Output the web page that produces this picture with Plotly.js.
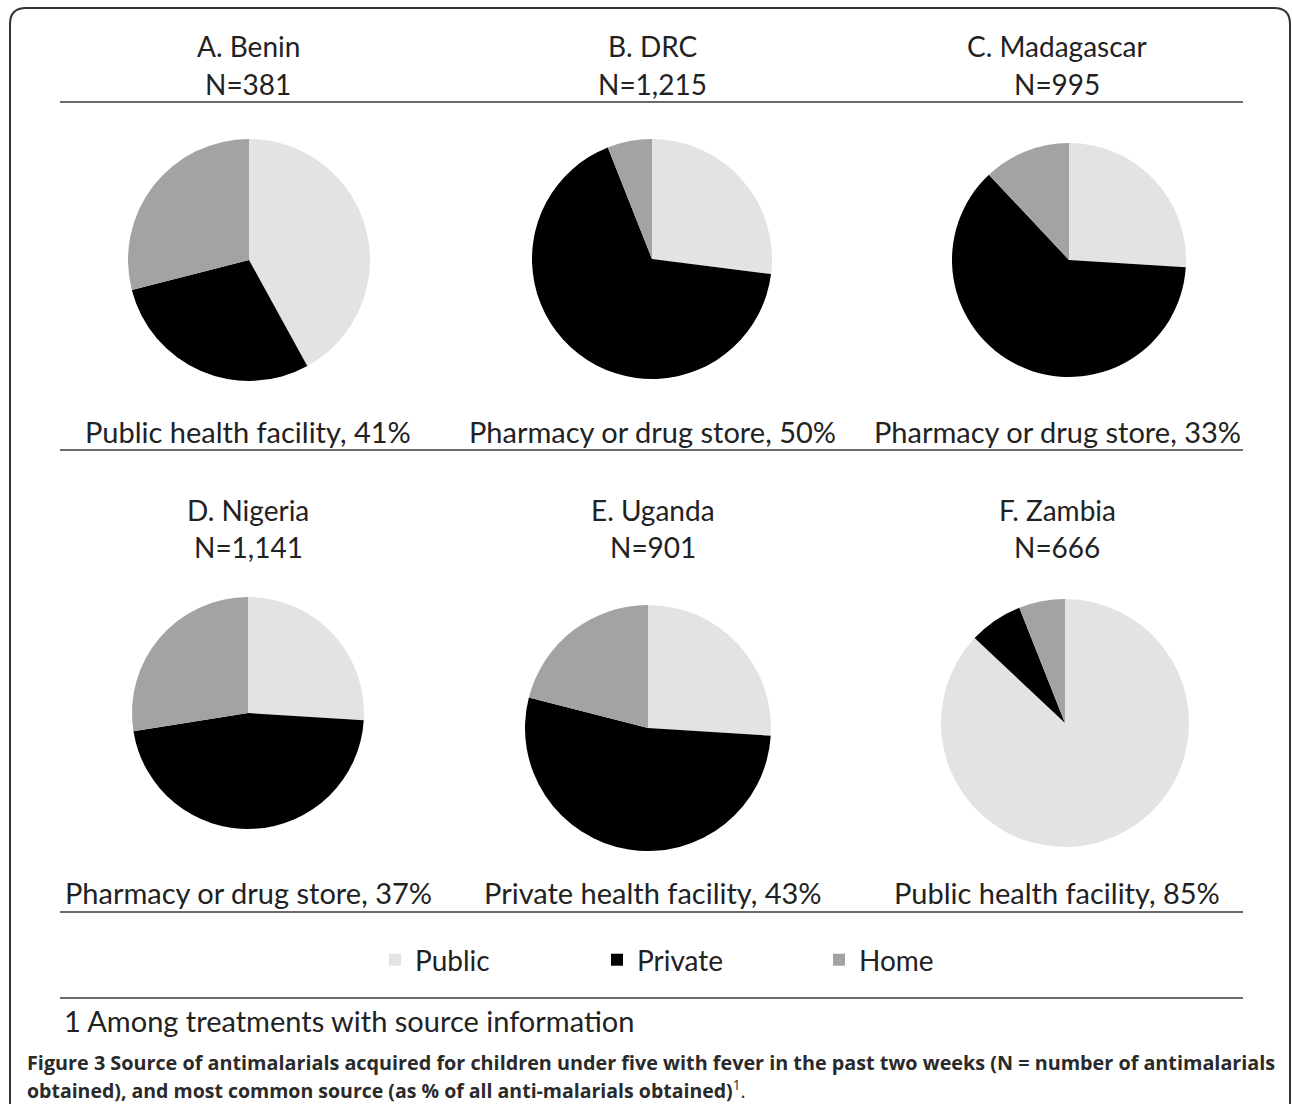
<!DOCTYPE html>
<html>
<head>
<meta charset="utf-8">
<script src="https://cdn.plot.ly/plotly-3.0.1.min.js"></script>
<style>
  html, body { margin: 0; padding: 0; background: #ffffff; }
  #chart { width: 1292px; height: 1104px; }
</style>
</head>
<body>
<div id="chart"></div>
<script>
// ---- data ----
const sources = ["Public", "Private", "Home"];
const countries = ["A. Benin", "B. DRC", "C. Madagascar", "D. Nigeria", "E. Uganda", "F. Zambia"];
const sampleSizes = ["N=381", "N=1,215", "N=995", "N=1,141", "N=901", "N=666"];
const mostCommon = [
  "Public health facility, 41%",
  "Pharmacy or drug store, 50%",
  "Pharmacy or drug store, 33%",
  "Pharmacy or drug store, 37%",
  "Private health facility, 43%",
  "Public health facility, 85%"
];
const publicShare  = [42, 27, 26, 26, 26, 87];
const privateShare = [29, 67, 62, 46.5, 53, 7];
const homeShare    = [29, 6, 12, 27.5, 21, 6];
const footnote = "1 Among treatments with source information";
const captionLine1 = "<b>Figure 3 Source of antimalarials acquired for children under five with fever in the past two weeks (N = number of antimalarials</b>";
const captionLine2 = "<b>obtained), and most common source (as % of all anti-malarials obtained)</b><sup>1</sup>.";

// ---- layout geometry (pixels) ----
const W = 1292, H = 1104;
const colors = ["#e3e3e3", "#000000", "#a3a3a3"];
const pieGeom = [ // cx, cy, r
  [249, 260, 121], [652, 259, 120], [1069, 260, 117],
  [248, 713, 116], [648, 728, 123], [1065, 723, 124]
];
const colCenters = [248, 653, 1057];
const titleY = [[46, 84], [510, 547]];
const labelY = [432, 892];

const px = x => x / W;
const py = y => 1 - y / H;

const data = pieGeom.map((g, i) => ({
  type: "pie",
  labels: sources,
  values: [publicShare[i], privateShare[i], homeShare[i]],
  sort: false,
  direction: "clockwise",
  rotation: 0,
  textinfo: "none",
  hoverinfo: "label+percent",
  marker: { colors: colors, line: { width: 0 } },
  showlegend: i === 0,
  domain: { x: [px(g[0] - g[2]), px(g[0] + g[2])], y: [py(g[1] + g[2]), py(g[1] - g[2])] }
}));

const fontMain = "Lato, 'Open Sans', sans-serif";
const annotations = [];
countries.forEach((c, i) => {
  const row = Math.floor(i / 3), col = i % 3;
  annotations.push({ text: c, x: px(colCenters[col]), y: py(titleY[row][0]), xref: "paper", yref: "paper",
    showarrow: false, xanchor: "center", yanchor: "middle", font: { family: fontMain, size: 28, color: "#222" } });
  annotations.push({ text: sampleSizes[i], x: px(colCenters[col]), y: py(titleY[row][1]), xref: "paper", yref: "paper",
    showarrow: false, xanchor: "center", yanchor: "middle", font: { family: fontMain, size: 28, color: "#222" } });
  annotations.push({ text: mostCommon[i], x: px(colCenters[col]), y: py(labelY[row]), xref: "paper", yref: "paper",
    showarrow: false, xanchor: "center", yanchor: "middle", font: { family: fontMain, size: 29, color: "#222" } });
});
annotations.push({ text: footnote, x: px(62), y: py(1020), xref: "paper", yref: "paper", showarrow: false,
  xanchor: "left", yanchor: "middle", font: { family: fontMain, size: 29, color: "#222" } });
annotations.push({ text: captionLine1, x: px(25), y: py(1062), xref: "paper", yref: "paper", showarrow: false,
  xanchor: "left", yanchor: "middle", font: { family: "'Open Sans', sans-serif", size: 19.8, color: "#2a2a2a" } });
annotations.push({ text: captionLine2, x: px(25), y: py(1089), xref: "paper", yref: "paper", showarrow: false,
  xanchor: "left", yanchor: "middle", font: { family: "'Open Sans', sans-serif", size: 19.5, color: "#2a2a2a" } });

const shapes = [];
[102, 450, 912, 998].forEach(y => {
  shapes.push({ type: "line", xref: "paper", yref: "paper", x0: px(60), x1: px(1243), y0: py(y), y1: py(y),
    line: { color: "#6a6a6a", width: 2 } });
});
// rounded border
const L = px(10), R = px(1290), T = py(8), B = py(1110);
const rx = px(16), ry = 16 / H;
shapes.push({ type: "path", xref: "paper", yref: "paper",
  path: `M ${L} ${B} L ${L} ${T - ry} Q ${L} ${T} ${L + rx} ${T} L ${R - rx} ${T} Q ${R} ${T} ${R} ${T - ry} L ${R} ${B}`,
  line: { color: "#333", width: 2 } });

const layout = {
  width: W, height: H,
  margin: { l: 0, r: 0, t: 0, b: 0 },
  paper_bgcolor: "#ffffff",
  showlegend: true,
  legend: {
    orientation: "h", x: px(375), y: py(960), xanchor: "left", yanchor: "middle",
    font: { family: fontMain, size: 28, color: "#222" },
    entrywidth: 177, entrywidthmode: "pixels", traceorder: "normal",
    bgcolor: "rgba(0,0,0,0)"
  },
  annotations: annotations,
  shapes: shapes
};

Plotly.newPlot("chart", data, layout, { displayModeBar: false });
</script>
</body>
</html>
